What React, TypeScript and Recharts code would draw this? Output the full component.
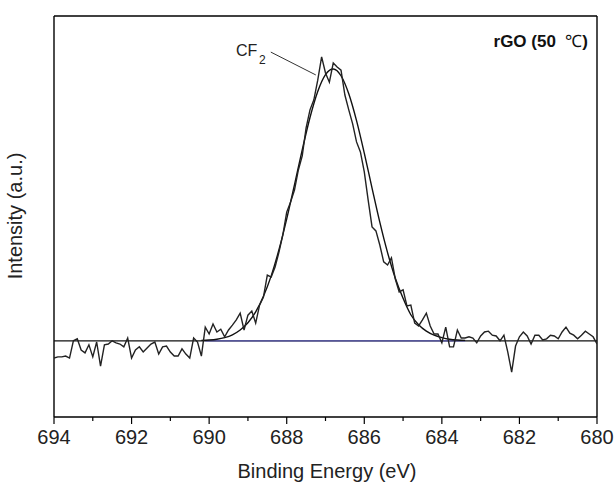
import { LineChart, Line, XAxis, YAxis, ReferenceLine } from 'recharts'

// F 1s region, raw counts sampled every 0.1 eV from 694.0 down to 680.0
const START_EV = 694
const STEP_EV = 0.1
const rawCounts = [
  14.7, 15.0, 15.0, 15.2, 14.7, 19.0, 19.5, 16.7, 16.0, 18.0,
  15.0, 18.7, 12.7, 18.0, 18.2, 19.0, 18.5, 18.2, 17.5, 19.7,
  14.7, 16.7, 17.5, 16.2, 17.2, 18.2, 18.7, 15.7, 17.5, 17.7,
  16.2, 15.2, 15.2, 17.0, 15.7, 14.7, 19.7, 18.7, 15.2, 22.4,
  20.7, 23.2, 21.2, 21.9, 20.0, 21.7, 22.9, 24.2, 25.9, 21.7,
  25.4, 26.4, 23.4, 27.9, 29.9, 35.4, 34.9, 37.4, 41.1, 45.4,
  51.1, 53.6, 56.6, 61.6, 65.1, 72.1, 76.6, 79.1, 84.0, 89.8,
  85.8, 83.5, 88.3, 87.3, 86.5, 80.3, 76.6, 73.1, 68.6, 66.1,
  61.1, 54.1, 47.4, 46.4, 42.9, 38.7, 37.9, 39.7, 34.4, 31.2,
  31.7, 27.7, 27.9, 23.4, 22.7, 24.2, 25.9, 22.7, 20.7, 20.7,
  18.5, 22.4, 17.5, 17.5, 21.7, 19.7, 19.7, 20.0, 19.7, 18.5,
  20.2, 21.2, 21.4, 20.4, 20.2, 19.0, 20.4, 16.2, 11.2, 17.7,
  20.0, 21.2, 20.2, 18.2, 20.4, 20.4, 19.2, 19.5, 20.4, 20.2,
  19.5, 21.2, 22.4, 20.9, 20.4, 19.5, 20.4, 21.4, 20.7, 20.0,
  18.2,
]

// CF2 component fit
const fitEnergy = [
  690.2, 690.0, 689.8, 689.6, 689.4, 689.2, 689.0, 688.8, 688.6, 688.4,
  688.2, 688.0, 687.8, 687.6, 687.4, 687.2, 687.0, 686.8, 686.6, 686.4,
  686.2, 686.0, 685.8, 685.6, 685.4, 685.2, 685.0, 684.8, 684.6, 684.4,
  684.2, 684.0, 683.8, 683.6, 683.4,
]
const fitCounts = [
  19.1, 19.2, 19.4, 19.8, 20.5, 21.7, 23.5, 26.2, 30.1, 35.2,
  41.7, 49.4, 57.9, 66.6, 74.7, 81.2, 85.4, 86.8, 85.1, 80.6,
  73.9, 65.8, 57.1, 48.6, 41.0, 34.6, 29.6, 25.5, 23.0, 21.4,
  20.4, 19.8, 19.4, 19.2, 19.1,
]

const BASELINE = 19
const BG_FROM = 690.1
const BG_TO = 683.4
const energyTicks = [694, 693, 692, 691, 690, 689, 688, 687, 686, 685, 684, 683, 682, 681, 680]

const spectrum = rawCounts.map((v, i) => ({ e: +(START_EV - i * STEP_EV).toFixed(1), v }))
const fit = fitEnergy.map((e, i) => ({ e, v: fitCounts[i] }))

const FONT = '"Liberation Sans", Arial, sans-serif'

function EnergyTick({ x, y, payload }: any) {
  const major = payload.value % 2 === 0
  return (
    <g>
      <line x1={x} x2={x} y1={y} y2={y + (major ? 7 : 4)} stroke="#000" strokeWidth={1.2} />
      {major && (
        <text x={x} y={y + 27} textAnchor="middle" fontSize={20} fill="#222" fontFamily={FONT}>
          {payload.value}
        </text>
      )}
    </g>
  )
}

export default function App() {
  return (
    <div style={{ position: 'absolute', left: 0, top: 0, width: 614, height: 484, background: '#fff' }}>
      <LineChart width={614} height={484} margin={{ top: 16, right: 17, left: 54, bottom: 37 }}>
        <XAxis
          type="number"
          dataKey="e"
          domain={[680, 694]}
          reversed
          ticks={energyTicks}
          interval={0}
          height={30}
          tickSize={0}
          tickMargin={0}
          tickLine={false}
          tick={<EnergyTick />}
          axisLine={{ stroke: '#000', strokeWidth: 1.4 }}
          allowDataOverflow
        />
        <YAxis type="number" domain={[0, 100]} hide />
        <ReferenceLine y={100} stroke="#000" strokeWidth={1.4} />
        <ReferenceLine x={680} stroke="#000" strokeWidth={1.4} />
        <ReferenceLine x={694} stroke="#000" strokeWidth={1.4} />
        <ReferenceLine y={BASELINE} stroke="#111" strokeWidth={1.2} />
        <ReferenceLine
          segment={[{ x: BG_FROM, y: BASELINE }, { x: BG_TO, y: BASELINE }]}
          stroke="#5b5bb5"
          strokeWidth={1.2}
        />
        <ReferenceLine
          segment={[{ x: 688.41, y: 91.0 }, { x: 687.25, y: 85.3 }]}
          stroke="#333"
          strokeWidth={1}
        />
        <Line
          data={fit}
          dataKey="v"
          type="monotone"
          stroke="#111"
          strokeWidth={1.4}
          dot={false}
          isAnimationActive={false}
        />
        <Line
          data={spectrum}
          dataKey="v"
          type="linear"
          stroke="#222"
          strokeWidth={1.4}
          dot={false}
          isAnimationActive={false}
        />
      </LineChart>
      <svg
        width={614}
        height={484}
        style={{ position: 'absolute', left: 0, top: 0, pointerEvents: 'none' }}
        fontFamily={FONT}
      >
        <text x={236} y={56} fontSize={16} fill="#222">
          CF
          <tspan x={259} y={64} fontSize={12}>2</tspan>
        </text>
        <text x={588} y={47} textAnchor="end" fontSize={17} fontWeight="bold" fill="#111" xmlSpace="preserve">
          rGO (50  <tspan fontWeight="normal">℃</tspan>)
        </text>
        <text x={327} y={478} textAnchor="middle" fontSize={20} fill="#222">
          Binding Energy (eV)
        </text>
        <text x={22} y={216} textAnchor="middle" fontSize={20} fill="#222" transform="rotate(-90 22 216)">
          Intensity (a.u.)
        </text>
      </svg>
    </div>
  )
}
